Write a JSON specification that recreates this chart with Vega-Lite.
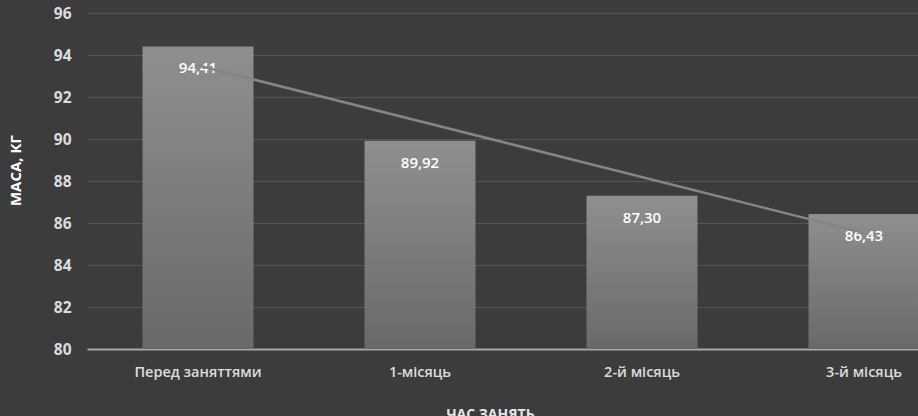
{
  "$schema": "https://vega.github.io/schema/vega-lite/v6.json",
  "width": 831,
  "height": 336,
  "autosize": {"type": "none"},
  "padding": {"left": 87, "top": 13, "right": 0, "bottom": 67},
  "background": "#3c3c3c",
  "config": {
    "view": {"stroke": null},
    "font": "Open Sans",
    "locale": {"number": {"decimal": ",", "thousands": " ", "grouping": [3], "currency": ["", ""]}}
  },
  "datasets": {
    "mass": [
      {"period": "Перед заняттями", "idx": 1, "mass": 94.41},
      {"period": "1-місяць", "idx": 2, "mass": 89.92},
      {"period": "2-й місяць", "idx": 3, "mass": 87.30},
      {"period": "3-й місяць", "idx": 4, "mass": 86.43}
    ]
  },
  "data": {"name": "mass"},
  "encoding": {
    "x": {
      "field": "period",
      "type": "nominal",
      "sort": null,
      "scale": {"range": [0, 888], "paddingInner": 0.5, "paddingOuter": 0.25},
      "axis": {
        "title": "ЧАС ЗАНЯТЬ",
        "titleColor": "#e6e6e6",
        "titleFontSize": 14,
        "titleFontWeight": "bold",
        "titleX": 403,
        "titleY": 58,
        "titleBaseline": "top",
        "titleAlign": "center",
        "labelAngle": 0,
        "labelColor": "#dcdcdc",
        "labelFontSize": 14.5,
        "labelFontWeight": 600,
        "labelPadding": 16,
        "ticks": false,
        "domainColor": "#a8a8a8",
        "domainWidth": 2,
        "grid": false
      }
    }
  },
  "layer": [
    {
      "mark": {
        "type": "bar",
        "color": {
          "gradient": "linear",
          "x1": 0, "y1": 0, "x2": 0, "y2": 1,
          "stops": [
            {"offset": 0, "color": "#8f8f8f"},
            {"offset": 1, "color": "#696969"}
          ]
        }
      },
      "encoding": {
        "y": {
          "field": "mass",
          "type": "quantitative",
          "scale": {"domain": [80, 96], "zero": false, "nice": false},
          "axis": {
            "title": "МАСА, КГ",
            "titleColor": "#ffffff",
            "titleFontSize": 15,
            "titleFontWeight": "bold",
            "titleAngle": -90,
            "titleX": -72,
            "titleY": 157,
            "titleAlign": "center",
            "titleBaseline": "middle",
            "values": [80, 82, 84, 86, 88, 90, 92, 94, 96],
            "labelColor": "#dcdcdc",
            "labelFontSize": 15.5,
            "labelFontWeight": "bold",
            "labelPadding": 16,
            "ticks": false,
            "domain": false,
            "grid": true,
            "gridColor": "#555555",
            "gridWidth": 1
          }
        },
        "y2": {"datum": 80}
      }
    },
    {
      "mark": {"type": "text", "color": "#ffffff", "fontSize": 15, "fontWeight": 600, "baseline": "middle", "dy": 22},
      "encoding": {
        "y": {"field": "mass", "type": "quantitative"},
        "text": {"field": "mass", "type": "quantitative", "format": ".2f"}
      }
    },
    {
      "transform": [
        {"regression": "mass", "on": "idx", "method": "linear"},
        {"lookup": "idx", "from": {"data": {"name": "mass"}, "key": "idx", "fields": ["period"]}}
      ],
      "mark": {"type": "line", "color": "#858585", "strokeWidth": 2.5},
      "encoding": {
        "y": {"field": "mass", "type": "quantitative"}
      }
    }
  ]
}
